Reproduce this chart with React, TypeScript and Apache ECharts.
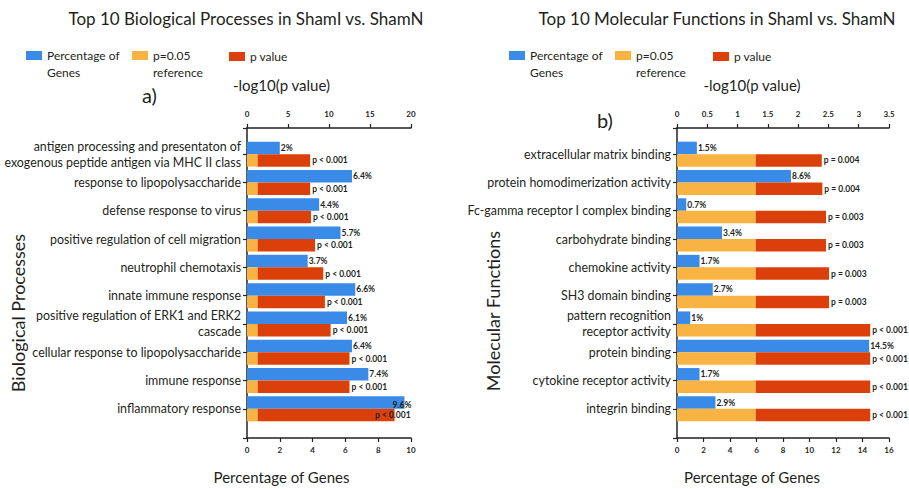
import React, { useEffect, useRef } from "react";
import * as echarts from "echarts";

// ---------- data ----------
const bpCategories = [
  "antigen processing and presentaton of\nexogenous peptide antigen via MHC II class",
  "response to lipopolysaccharide",
  "defense response to virus",
  "positive regulation of cell migration",
  "neutrophil chemotaxis",
  "innate immune response",
  "positive regulation of ERK1 and ERK2\ncascade",
  "cellular response to lipopolysaccharide",
  "immune response",
  "inflammatory response",
];
const bpPercent = [2, 6.4, 4.4, 5.7, 3.7, 6.6, 6.1, 6.4, 7.4, 9.6];
const bpLogP = [7.7, 7.7, 7.8, 8.3, 9.3, 9.5, 10.2, 12.5, 12.5, 18.0];
const bpRef = [1.3, 1.3, 1.3, 1.3, 1.3, 1.3, 1.3, 1.3, 1.3, 1.3];
const bpPLabels = [
  "p < 0.001", "p < 0.001", "p < 0.001", "p < 0.001", "p < 0.001",
  "p < 0.001", "p < 0.001", "p < 0.001", "p < 0.001", "p < 0.001",
];
const bpPercentTicks = { min: 0, max: 10, interval: 2 };
const bpLogTicks = { min: 0, max: 20, interval: 5 };

const mfCategories = [
  "extracellular matrix binding",
  "protein homodimerization activity",
  "Fc-gamma receptor I complex binding",
  "carbohydrate binding",
  "chemokine activity",
  "SH3 domain binding",
  "pattern recognition\nreceptor activity",
  "protein binding",
  "cytokine receptor activity",
  "integrin binding",
];
const mfPercent = [1.5, 8.6, 0.7, 3.4, 1.7, 2.7, 1, 14.5, 1.7, 2.9];
const mfLogP = [2.39, 2.4, 2.46, 2.46, 2.51, 2.51, 3.19, 3.19, 3.19, 3.19];
const mfRef = [1.3, 1.3, 1.3, 1.3, 1.3, 1.3, 1.3, 1.3, 1.3, 1.3];
const mfPLabels = [
  "p = 0.004", "p = 0.004", "p = 0.003", "p = 0.003", "p = 0.003",
  "p = 0.003", "p < 0.001", "p < 0.001", "p < 0.001", "p < 0.001",
];
const mfPercentTicks = { min: 0, max: 16, interval: 2 };
const mfLogTicks = { min: 0, max: 3.5, interval: 0.5 };

const seriesNames = ["Percentage of\nGenes", "p=0.05\nreference", "p value"];

// ---------- style ----------
const FONT = "Lato";
const TXT = "#231f20";
const BLUE = "#3a8ae8";
const ORANGE = "#f9b343";
const RED = "#dc400a";
const AXIS = "#222";
// legend icon: a 16x9 rectangle in the top of a 16x26 box (so it lines up with the first text line)
const TOP_RECT_ICON = "path://M0 0H16V9H0Z M0 25.99H0.01V26H0Z";

type Panel = {
  cats: string[];
  pct: number[];
  logp: number[];
  ref: number[];
  plabels: string[];
  pctTicks: { min: number; max: number; interval: number };
  logTicks: { min: number; max: number; interval: number };
  left: number;
  right: number;
  namePad: number;
  clampLast: boolean;
};

function buildPanel(p: Panel, k: number) {
  const gi = k * 2;
  const xi = k * 4;
  const yi = k * 2;
  const stackId = "p" + k;
  const grids = [
    { left: p.left, right: p.right, top: 128, height: 310 },
    { left: p.left, right: p.right, top: 140, height: 283 },
  ];
  const tickLabel = { fontSize: 8, fontWeight: "bold", color: TXT, fontFamily: FONT };
  const axLine = { show: true, lineStyle: { color: AXIS, width: 1.5 } };
  const axTick = { show: true, length: 4, lineStyle: { color: AXIS, width: 1.2 } };
  const xAxes = [
    {
      gridIndex: gi, type: "value", position: "bottom", ...p.pctTicks,
      axisLine: axLine, axisTick: axTick, splitLine: { show: false },
      axisLabel: { ...tickLabel, margin: 8 },
      name: "Percentage of Genes", nameLocation: "middle", nameGap: 31,
      nameTextStyle: { fontSize: 15, color: TXT, fontFamily: FONT, padding: [0, p.namePad, 0, 0] },
    },
    {
      gridIndex: gi, type: "value", position: "top", ...p.logTicks,
      axisLine: axLine, axisTick: axTick, splitLine: { show: false },
      axisLabel: { ...tickLabel, margin: 10 },
      name: "-log10(p value)", nameLocation: "middle", nameGap: 36,
      nameTextStyle: { fontSize: 15, color: TXT, fontFamily: FONT, padding: [0, p.namePad, 0, 0] },
    },
    { gridIndex: gi + 1, type: "value", position: "bottom", ...p.pctTicks, show: false },
    { gridIndex: gi + 1, type: "value", position: "top", ...p.logTicks, show: false },
  ];
  const yAxes = [
    {
      gridIndex: gi, type: "value", min: 0, max: 1, interval: 1,
      axisLine: axLine, axisTick: axTick, axisLabel: { show: false }, splitLine: { show: false },
    },
    {
      gridIndex: gi + 1, type: "category", inverse: true, data: p.cats,
      axisLine: { show: false },
      axisTick: { show: true, alignWithLabel: true, length: 4, lineStyle: { color: AXIS, width: 1.2 } },
      axisLabel: { fontSize: 12.4, color: TXT, fontFamily: FONT, lineHeight: 16, margin: 6 },
    },
  ];
  const barLabel = { fontSize: 8.5, fontWeight: "bold", color: TXT, fontFamily: FONT };
  const last = p.cats.length - 1;
  const series = [
    {
      name: seriesNames[0], type: "bar", xAxisIndex: xi + 2, yAxisIndex: yi + 1,
      barWidth: 12.5, barGap: "0%", itemStyle: { color: BLUE },
      data: p.pct.map((v, i) =>
        p.clampLast && i === last
          ? { value: v, label: { position: "insideRight", distance: 0, offset: [7, 2] } }
          : v
      ),
      label: { show: true, position: "right", distance: 1, ...barLabel, formatter: (d: any) => `${d.value}%` },
    },
    {
      name: seriesNames[1], type: "bar", stack: stackId, xAxisIndex: xi + 3, yAxisIndex: yi + 1,
      barWidth: 12.5, barGap: "0%", itemStyle: { color: ORANGE }, data: p.ref,
    },
    {
      name: seriesNames[2], type: "bar", stack: stackId, xAxisIndex: xi + 3, yAxisIndex: yi + 1,
      barWidth: 12.5, barGap: "0%", itemStyle: { color: RED },
      data: p.logp.map((v, i) => {
        const val = +(v - p.ref[i]).toFixed(3);
        return p.clampLast && i === last
          ? { value: val, label: { position: "insideRight", distance: 0, offset: [16, 0] } }
          : val;
      }),
      label: {
        show: true, position: "right", distance: 2, ...barLabel,
        formatter: (d: any) => p.plabels[d.dataIndex],
      },
    },
  ];
  return { grids, xAxes, yAxes, series };
}

function legendItem(name: string, left: number, top: number, multi: boolean) {
  return {
    data: [{ name, icon: multi ? TOP_RECT_ICON : "rect" }],
    left, top, padding: 0, itemWidth: 16, itemHeight: multi ? 26 : 9,
    selectedMode: false,
    textStyle: { fontSize: 12, color: TXT, fontFamily: FONT, lineHeight: 17 },
  };
}

export default function App() {
  const ref = useRef<HTMLDivElement>(null);
  useEffect(() => {
    document.body.style.margin = "0";
    if (!ref.current) return;
    const chart = echarts.init(ref.current, null, { renderer: "svg" });
    const a = buildPanel(
      { cats: bpCategories, pct: bpPercent, logp: bpLogP, ref: bpRef, plabels: bpPLabels,
        pctTicks: bpPercentTicks, logTicks: bpLogTicks, left: 247, right: 498, namePad: 95, clampLast: true },
      0
    );
    const b = buildPanel(
      { cats: mfCategories, pct: mfPercent, logp: mfLogP, ref: mfRef, plabels: mfPLabels,
        pctTicks: mfPercentTicks, logTicks: mfLogTicks, left: 677, right: 20, namePad: 62, clampLast: false },
      1
    );
    const titleStyle = { fontSize: 17, fontWeight: "normal", color: TXT, fontFamily: FONT };
    chart.setOption({
      animation: false,
      textStyle: { fontFamily: FONT },
      title: [
        { text: "Top 10 Biological Processes in ShamI vs. ShamN", left: 241, top: 5, textAlign: "center", textStyle: titleStyle },
        { text: "Top 10 Molecular Functions in ShamI vs. ShamN", left: 712, top: 5, textAlign: "center", textStyle: titleStyle },
      ],
      legend: [
        legendItem(seriesNames[0], 26, 47, true),
        legendItem(seriesNames[1], 132, 47, true),
        legendItem(seriesNames[2], 229, 48, false),
        legendItem(seriesNames[0], 509, 47, true),
        legendItem(seriesNames[1], 615, 47, true),
        legendItem(seriesNames[2], 713, 48, false),
      ],
      grid: [...a.grids, ...b.grids],
      xAxis: [...a.xAxes, ...b.xAxes],
      yAxis: [...a.yAxes, ...b.yAxes],
      series: [...a.series, ...b.series],
      graphic: [
        { type: "text", left: 142, top: 85, style: { text: "a)", font: `20px ${FONT}`, fill: TXT } },
        { type: "text", left: 597, top: 110, style: { text: "b)", font: `20px ${FONT}`, fill: TXT } },
        { type: "text", x: 18, y: 313, rotation: Math.PI / 2,
          style: { text: "Biological Processes", font: `18px ${FONT}`, fill: TXT, align: "center", verticalAlign: "middle" } },
        { type: "text", x: 493, y: 311, rotation: Math.PI / 2,
          style: { text: "Molecular Functions", font: `18px ${FONT}`, fill: TXT, align: "center", verticalAlign: "middle" } },
      ],
    });
    return () => chart.dispose();
  }, []);
  return <div ref={ref} style={{ width: 909, height: 489 }} />;
}
